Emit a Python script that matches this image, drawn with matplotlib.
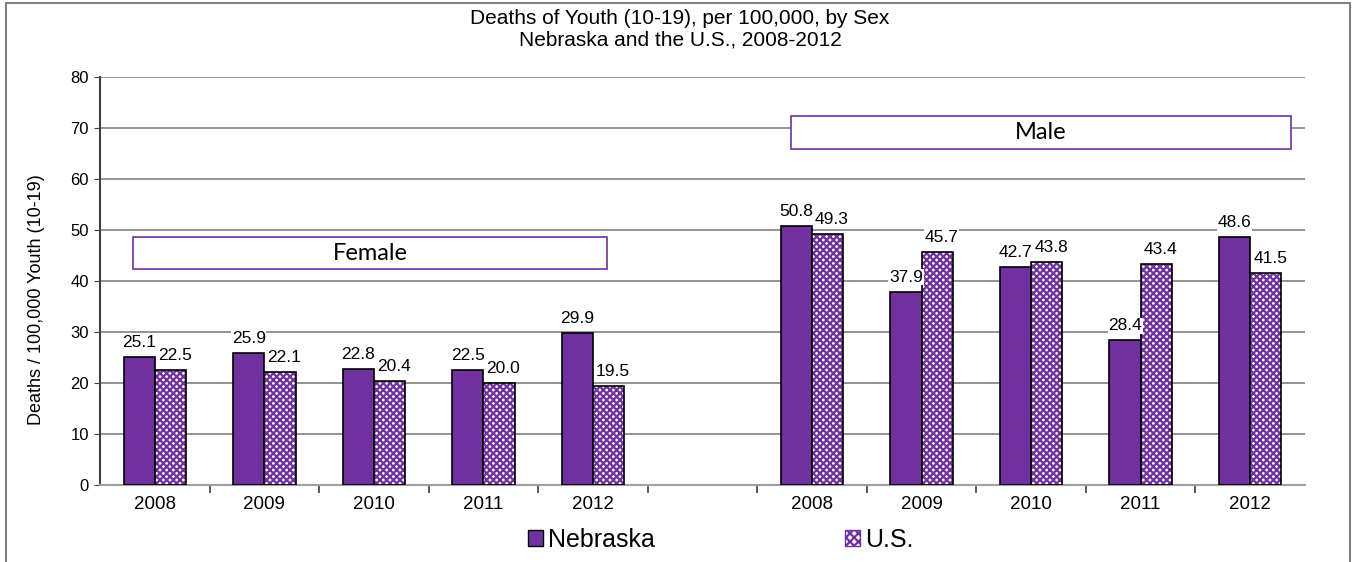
import matplotlib.pyplot as plt
import matplotlib.patches as mpatches
import numpy as np

# ---- data ----
years = ["2008", "2009", "2010", "2011", "2012"]
groups = ["Female", "Male"]
nebraska_female = [25.1, 25.9, 22.8, 22.5, 29.9]
us_female = [22.5, 22.1, 20.4, 20.0, 19.5]
nebraska_male = [50.8, 37.9, 42.7, 28.4, 48.6]
us_male = [49.3, 45.7, 43.8, 43.4, 41.5]

PURPLE = "#7030A0"
plt.rcParams["font.family"] = ["Liberation Sans", "DejaVu Sans"]
plt.rcParams["hatch.linewidth"] = 1.6

fig = plt.figure(figsize=(13.6, 5.62), dpi=100)
ax = fig.add_axes([100 / 1360, 1 - 485 / 562, 1205 / 1360, 408 / 562])

# female slots 0-4, an empty slot, male slots 6-10
x = np.concatenate([np.arange(5), np.arange(6, 11)])
neb = nebraska_female + nebraska_male
us = us_female + us_male
w = 0.285

ax.set_axisbelow(True)
ax.bar(x - w, neb, width=w, align="edge", color=PURPLE, edgecolor="black", linewidth=1.2, zorder=3)
# US bars: checker-ish hatch in purple, then a black outline on top
ax.bar(x, us, width=w, align="edge", color="white", edgecolor=PURPLE, hatch="xxxxx", linewidth=0, zorder=3)
ax.bar(x, us, width=w, align="edge", fill=False, edgecolor="black", linewidth=1.2, zorder=4)

for xi, v in zip(x, neb):
    ax.annotate(f"{v:.1f}", (xi - w / 2, v), xytext=(0, 5), textcoords="offset points",
                ha="center", va="bottom", fontsize=12.5,
                bbox=dict(facecolor="white", edgecolor="none", pad=0.5), zorder=5)
for xi, v in zip(x, us):
    ax.annotate(f"{v:.1f}", (xi + w / 2 + 0.04, v), xytext=(0, 5), textcoords="offset points",
                ha="center", va="bottom", fontsize=12.5,
                bbox=dict(facecolor="white", edgecolor="none", pad=0.5), zorder=5)

ax.set_xlim(-0.5, 10.5)
ax.set_ylim(0, 80)
ax.set_yticks(np.arange(0, 81, 10))
ax.yaxis.grid(True, color="#808080", linewidth=1.2)
ax.tick_params(axis="y", labelsize=12, length=4, color="#404040", pad=4)

ax.set_xticks(x)
ax.set_xticklabels(years * 2, fontsize=13.5)
ax.set_xticks(np.arange(0.5, 10.5, 1), minor=True)
ax.tick_params(axis="x", which="major", length=0, pad=8)
ax.tick_params(axis="x", which="minor", length=6, color="#404040", width=1.2)

for side in ["top", "right"]:
    ax.spines[side].set_visible(False)
ax.spines["left"].set_color("#404040")
ax.spines["left"].set_linewidth(1.5)
ax.spines["bottom"].set_color("#a0a0a0")
ax.spines["bottom"].set_linewidth(1.5)

ax.set_ylabel("Deaths / 100,000 Youth (10-19)", fontsize=13)
ax.yaxis.set_label_coords(-55 / 1205, 0.455)

# group label boxes
box_pos = {"Female": (-0.199, 42.35, 4.33, 6.25), "Male": (5.81, 65.9, 4.56, 6.45)}
for g in groups:
    bx, by, bw, bh = box_pos[g]
    ax.add_patch(mpatches.Rectangle((bx, by), bw, bh, facecolor="white", edgecolor=PURPLE,
                                    linewidth=1.2, zorder=6))
    ax.text(bx + bw / 2, by + bh / 2, g, ha="center", va="center", fontsize=17,
            family=["Lato", "DejaVu Sans"], zorder=7)

fig.text(0.5, 1 - 18 / 562, "Deaths of Youth (10-19), per 100,000, by Sex", ha="center", va="center", fontsize=15)
fig.text(0.5, 1 - 40 / 562, "Nebraska and the U.S., 2008-2012", ha="center", va="center", fontsize=15)

h_neb = mpatches.Patch(facecolor=PURPLE, edgecolor="black", linewidth=1)
h_us = mpatches.Patch(facecolor="white", edgecolor=PURPLE, hatch="xxxx", linewidth=1)
fig.legend([h_neb, h_us], ["Nebraska", "U.S."], loc="center", bbox_to_anchor=(0.53, 1 - 540 / 562),
           ncol=2, frameon=False, fontsize=18, handlelength=0.6, handleheight=0.6,
           handletextpad=0.2, columnspacing=7.6, borderpad=0)

# outer chart frame
fig.add_artist(mpatches.Rectangle((6 / 1360, -0.1), 1344 / 1360, 1.1 - 3 / 562,
                                  transform=fig.transFigure, fill=False, edgecolor="#808080",
                                  linewidth=1.5, clip_on=False))

fig.savefig("out.png", dpi=100)
